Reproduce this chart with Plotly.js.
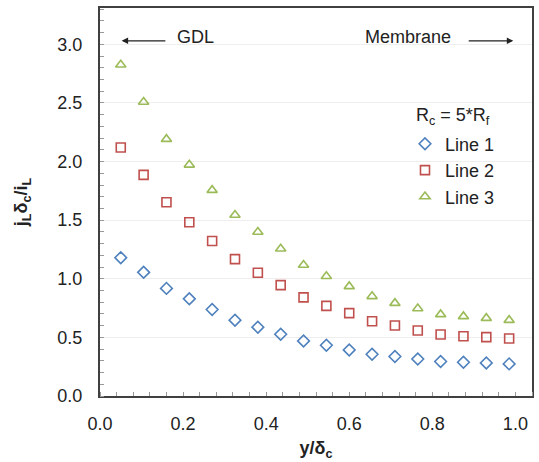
<!DOCTYPE html>
<html>
<head>
<meta charset="utf-8">
<script src="https://cdn.plot.ly/plotly-3.0.1.min.js"></script>
<style>html,body{margin:0;padding:0;background:#fff;}#chart{width:539px;height:462px;}</style>
</head>
<body>
<div id="chart"></div>
<script>
const xPos = [0.05, 0.105, 0.16, 0.215, 0.27, 0.325, 0.38, 0.435, 0.49, 0.545, 0.60, 0.655, 0.71, 0.765, 0.82, 0.875, 0.93, 0.985];
const line1 = [1.18, 1.055, 0.918, 0.829, 0.738, 0.647, 0.587, 0.527, 0.47, 0.433, 0.393, 0.356, 0.337, 0.316, 0.294, 0.288, 0.282, 0.274];
const line2 = [2.12, 1.886, 1.653, 1.482, 1.322, 1.168, 1.051, 0.946, 0.841, 0.769, 0.707, 0.638, 0.602, 0.559, 0.525, 0.51, 0.502, 0.49];
const line3 = [2.826, 2.508, 2.191, 1.972, 1.756, 1.544, 1.399, 1.256, 1.117, 1.021, 0.935, 0.85, 0.792, 0.747, 0.696, 0.679, 0.664, 0.647];
const seriesNames = ['Line 1', 'Line 2', 'Line 3'];
const xTicks = [0, 0.2, 0.4, 0.6, 0.8, 1.0];
const xTickText = ['0.0', '0.2', '0.4', '0.6', '0.8', '1.0'];
const yTicks = [0, 0.5, 1.0, 1.5, 2.0, 2.5, 3.0];
const yTickText = ['0.0', '0.5', '1.0', '1.5', '2.0', '2.5', '3.0'];

const font = 'Liberation Sans, Arial, sans-serif';
const mk = (sym, col) => ({symbol: sym, size: 9, color: col, line: {color: col, width: 1.6}});
const data = [
  {x: xPos, y: line1, name: seriesNames[0], type: 'scatter', mode: 'markers', marker: mk('diamond-open', '#4f81bd')},
  {x: xPos, y: line2, name: seriesNames[1], type: 'scatter', mode: 'markers', marker: mk('square-open', '#c0504d')},
  {x: xPos, y: line3, name: seriesNames[2], type: 'scatter', mode: 'markers', marker: mk('triangle-up-open', '#9bbb59')}
];

const layout = {
  width: 539, height: 462,
  margin: {l: 100, r: 7, t: 8, b: 66},
  paper_bgcolor: '#fff', plot_bgcolor: '#fff',
  font: {family: font, size: 18, color: '#222'},
  showlegend: true,
  legend: {
    x: 0.706, y: 0.697, xanchor: 'left', yanchor: 'top',
    bgcolor: 'rgba(255,255,255,0)', borderwidth: 0,
    font: {size: 18, color: '#222'},
    itemwidth: 30
  },
  xaxis: {
    range: [0, 1.04], tickvals: xTicks, ticktext: xTickText,
    showgrid: false, zeroline: false,
    showline: true, linecolor: '#404040', linewidth: 2, mirror: true,
    ticks: '', ticklabelstandoff: 10, tickfont: {size: 18, color: '#222'},
    minor: {dtick: 0.04, tick0: 0, ticks: 'inside', ticklen: 4, tickcolor: '#999', showgrid: false},
    title: {text: '<b>y/δ<sub>c</sub></b>', font: {size: 18, color: '#222'}, standoff: 9}
  },
  yaxis: {
    range: [0, 3.31], tickvals: yTicks, ticktext: yTickText,
    showgrid: true, gridcolor: '#eeeeee', gridwidth: 1, zeroline: false,
    showline: true, linecolor: '#404040', linewidth: 2, mirror: true,
    ticks: '', ticklabelstandoff: 12, tickfont: {size: 18, color: '#222'},
    minor: {dtick: 0.1, tick0: 0, ticks: 'inside', ticklen: 4, tickcolor: '#999', showgrid: false},
    title: {text: '<b>j<sub>L</sub>δ<sub>c</sub>/i<sub>L</sub></b>', font: {size: 18, color: '#222'}, standoff: 25}
  },
  annotations: [
    {x: 0.052, y: 3.03, ax: 0.161, ay: 3.03, xref: 'x', yref: 'y', axref: 'x', ayref: 'y', text: '', showarrow: true, arrowhead: 2, arrowsize: 1, arrowwidth: 1.3, arrowcolor: '#222'},
    {x: 0.995, y: 3.03, ax: 0.884, ay: 3.03, xref: 'x', yref: 'y', axref: 'x', ayref: 'y', text: '', showarrow: true, arrowhead: 2, arrowsize: 1, arrowwidth: 1.3, arrowcolor: '#222'},
    {x: 0.231, y: 3.06, xref: 'x', yref: 'y', text: 'GDL', showarrow: false, font: {size: 18, color: '#222'}},
    {x: 0.742, y: 3.06, xref: 'x', yref: 'y', text: 'Membrane', showarrow: false, font: {size: 18, color: '#222'}},
    {x: 0.727, y: 0.72, xref: 'paper', yref: 'paper', xanchor: 'left', yanchor: 'middle', text: 'R<sub>c</sub> = 5*R<sub>f</sub>', showarrow: false, font: {size: 18, color: '#222'}}
  ]
};

Plotly.newPlot('chart', data, layout, {displayModeBar: false, staticPlot: true});
</script>
</body>
</html>
